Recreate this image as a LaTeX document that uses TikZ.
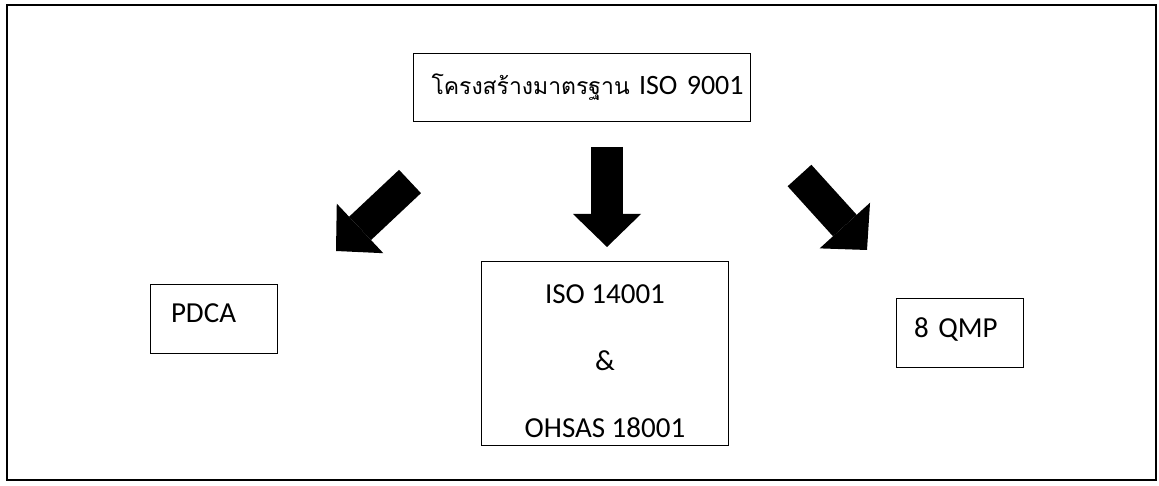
\documentclass[tikz,border=0pt]{standalone}
\usepackage{fontspec}
\setmainfont{Carlito}
\newfontfamily\thaifont[Script=Thai, Scale=0.82]{Loma}
\usepackage{xcolor}
\usepackage{tikz}
\usetikzlibrary{positioning, arrows.meta}

\tikzset{
  box/.style={draw, line width=1pt, inner sep=0pt, font=\fontsize{29}{34}\selectfont},
  bigarrow/.style={line width=32pt, -{Triangle[length=33pt, width=68pt, line width=0pt]}}
}

\begin{document}
\begin{tikzpicture}[x=1pt, y=-1pt]
    \useasboundingbox (0,0) rectangle (1159,486);
    \draw[line width=2pt] (6.5,5.5) rectangle (1155.5,480);

    \node[box, minimum width=337pt, minimum height=68pt, text width=330pt, align=left,
      text height=22pt, text depth=8pt, font=\fontsize{28}{34}\selectfont]
      (top) at (581.5,88) {\hspace*{15pt}{\thaifont โครงสร้างมาตรฐาน} ISO 9001};
    \node[box, minimum width=127pt, minimum height=68pt, text width=95pt, align=left,
      text height=20pt, text depth=12pt]
      (pdca) at (213.5,319) {\hspace*{5pt}PDCA};
    \node[box, minimum width=247pt, minimum height=183pt, align=center,
      font=\fontsize{29}{67}\selectfont]
      (iso) at (605,353.5) {\rule{0pt}{34pt}ISO 14001\\\&\\OHSAS 18001};
    \node[box, minimum width=127pt, minimum height=68pt, text width=95pt, align=left,
      text height=20pt, text depth=12pt]
      (qmp) at (959.5,333) {\hspace*{2pt}8 QMP};

    \coordinate (ltail) at (410,181.5);
    \coordinate (ltip) at (336,251);
    \coordinate (mtail) at (607,147);
    \coordinate (mtip) at (607,247);
    \coordinate (rtail) at (799.5,175.5);
    \coordinate (rtip) at (867,250);
    \draw[bigarrow] (ltail) -- (ltip);
    \draw[bigarrow] (mtail) -- (mtip);
    \draw[bigarrow] (rtail) -- (rtip);
\end{tikzpicture}
\end{document}
